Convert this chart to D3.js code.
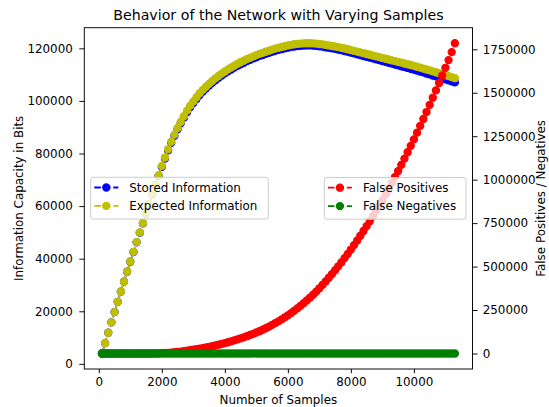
<!DOCTYPE html>
<html>
<head>
<meta charset="utf-8">
<script src="https://cdn.jsdelivr.net/npm/d3@7"></script>
<style>
  html, body { margin: 0; padding: 0; background: #fff; }
  svg { display: block; font-family: "DejaVu Sans", sans-serif; }
</style>
</head>
<body>
<svg id="chart" width="549" height="407"></svg>
<script>
// ---------- data ----------
const samples = [100,200,300,400,500,600,700,800,900,1000,1100,1200,1300,1400,1500,1600,1700,1800,1900,2000,
2100,2200,2300,2400,2500,2600,2700,2800,2900,3000,3100,3200,3300,3400,3500,3600,3700,3800,3900,4000,
4100,4200,4300,4400,4500,4600,4700,4800,4900,5000,5100,5200,5300,5400,5500,5600,5700,5800,5900,6000,
6100,6200,6300,6400,6500,6600,6700,6800,6900,7000,7100,7200,7300,7400,7500,7600,7700,7800,7900,8000,
8100,8200,8300,8400,8500,8600,8700,8800,8900,9000,9100,9200,9300,9400,9500,9600,9700,9800,9900,10000,
10100,10200,10300,10400,10500,10600,10700,10800,10900,11000,11100,11200,11300];

const storedInfo = [3950,7900,11850,15800,19700,23600,27480,31280,35060,38850,42530,46220,49900,53480,57050,60720,64380,67950,71500,74950,
78120,81180,84050,86720,89200,91470,93650,95720,97600,99180,100750,102250,103520,104700,105800,106880,107870,108780,109660,110480,
111250,111950,112650,113330,113950,114520,115130,115620,116130,116600,117120,117480,117920,118280,118720,119080,119420,119680,120020,120250,
120550,120700,120900,120950,121080,121100,121150,121020,120950,120780,120650,120400,120250,119980,119800,119520,119300,118980,118720,118350,
118080,117720,117450,117080,116800,116450,116180,115800,115520,115150,114880,114500,114220,113850,113550,113200,112920,112550,112250,111900,
111580,111150,110850,110400,110100,109650,109350,108900,108600,108200,107850,107450,107050];

const expectedInfo = [3950,7900,11850,15800,19700,23600,27500,31300,35100,38900,42600,46300,50000,53600,57200,60900,64600,68200,71800,75300,
78500,81600,84500,87200,89700,92000,94200,96300,98200,99800,101400,102900,104200,105400,106500,107600,108600,109500,110400,111200,
112000,112700,113400,114100,114700,115300,115900,116400,116900,117400,117900,118300,118700,119100,119500,119900,120200,120500,120800,121100,
121350,121550,121700,121800,121900,121950,121950,121900,121800,121650,121500,121300,121100,120900,120700,120450,120200,119950,119650,119350,
119050,118750,118450,118150,117850,117550,117250,116950,116650,116350,116050,115750,115450,115150,114850,114550,114250,113950,113650,113350,
113000,112650,112300,111950,111600,111250,110900,110550,110200,109850,109450,109050,108650];

const falsePositives = [0,0,0,0,0,0,0,0,0,0,0,0,0,0,0,100,300,600,1100,1800,
2700,3900,5300,6900,8800,10900,13200,15700,18400,21300,24400,27600,31000,34600,38300,42200,46300,50600,55100,59800,
64700,69900,75300,80900,86800,93000,99400,106200,113200,120600,128300,136500,145300,154500,164300,174600,185000,196000,207500,219500,
232000,245500,259500,274000,289000,305000,321000,338000,356000,375000,394500,414500,435500,457000,479000,501500,524500,548500,573000,598000,
623500,650000,677000,704500,732500,761000,790500,820500,851000,882500,914500,947500,981000,1015000,1049500,1085000,1121000,1157500,1194500,1232000,
1270500,1309500,1349000,1389000,1430000,1471500,1513500,1556000,1599500,1643500,1688000,1734000,1785000];

const falseNegatives = [0,0,0,0,0,0,0,0,0,0,0,0,0,0,0,0,0,0,0,0,
0,0,0,0,0,0,0,0,0,0,0,0,0,0,0,0,0,0,0,0,
0,0,0,0,0,0,0,0,0,0,0,0,0,0,0,0,0,0,0,0,
0,0,0,0,0,0,0,0,0,0,0,0,0,0,0,0,0,0,0,0,
0,0,0,0,0,0,0,0,0,0,0,0,0,0,0,0,0,0,0,0,
0,0,0,0,0,0,0,0,0,0,0,0,0];

const xTicks = [0,2000,4000,6000,8000,10000];
const leftTicks = [0,20000,40000,60000,80000,100000,120000];
const rightTicks = [0,250000,500000,750000,1000000,1250000,1500000,1750000];

const titleText = "Behavior of the Network with Varying Samples";
const xLabel = "Number of Samples";
const leftLabel = "Information Capacity in Bits";
const rightLabel = "False Positives / Negatives";

const leftSeries = [
  {name: "Stored Information", values: storedInfo, color: "#0000ff"},
  {name: "Expected Information", values: expectedInfo, color: "#bfbf00"}
];
const rightSeries = [
  {name: "False Positives", values: falsePositives, color: "#ff0000"},
  {name: "False Negatives", values: falseNegatives, color: "#008000"}
];

// ---------- layout ----------
const plot = {left: 84.3, right: 472.5, top: 27.7, bottom: 369};
const FS = 11.9;
const R = 3.57, EW = 1.19, LW = 1.79;
const DASH = "6.6,2.9";

function padded(lo, hi) { const s = hi - lo; return [lo - 0.05 * s, hi + 0.05 * s]; }

const x = d3.scaleLinear().domain(padded(d3.min(samples), d3.max(samples))).range([plot.left, plot.right]);
const leftAll = storedInfo.concat(expectedInfo);
const yL = d3.scaleLinear().domain(padded(d3.min(leftAll), d3.max(leftAll))).range([plot.bottom, plot.top]);
const rightAll = falsePositives.concat(falseNegatives);
const yR = d3.scaleLinear().domain(padded(d3.min(rightAll), d3.max(rightAll))).range([plot.bottom, plot.top]);

const svg = d3.select("#chart");
svg.append("rect").attr("width", 549).attr("height", 407).attr("fill", "#fff");

svg.append("defs").append("clipPath").attr("id", "clip")
  .append("rect").attr("x", plot.left).attr("y", plot.top)
  .attr("width", plot.right - plot.left).attr("height", plot.bottom - plot.top);

function drawSeries(g, s, yScale) {
  const line = d3.line().x((d, i) => x(samples[i])).y(d => yScale(d));
  g.append("path").attr("d", line(s.values)).attr("fill", "none")
    .attr("stroke", s.color).attr("stroke-width", LW).attr("stroke-dasharray", DASH);
  g.selectAll(null).data(s.values).enter().append("circle")
    .attr("cx", (d, i) => x(samples[i])).attr("cy", d => yScale(d)).attr("r", R)
    .attr("fill", s.color).attr("stroke", s.color).attr("stroke-width", EW);
}

function drawLegend(series, bx, by, bw, bh) {
  const g = svg.append("g");
  g.append("rect").attr("x", bx).attr("y", by).attr("width", bw).attr("height", bh)
    .attr("rx", 2.5).attr("fill", "#fff").attr("fill-opacity", 0.8)
    .attr("stroke", "#cccccc").attr("stroke-width", 1);
  series.forEach((s, i) => {
    const cy = by + 10.2 + i * 18.4;
    const hx = bx + 3.6;
    g.append("line").attr("x1", hx).attr("x2", hx + 24).attr("y1", cy).attr("y2", cy)
      .attr("stroke", s.color).attr("stroke-width", LW).attr("stroke-dasharray", DASH);
    g.append("circle").attr("cx", hx + 12).attr("cy", cy).attr("r", R)
      .attr("fill", s.color).attr("stroke", s.color).attr("stroke-width", EW);
    g.append("text").attr("x", hx + 35).attr("y", cy).attr("dy", "0.36em")
      .attr("font-size", FS).attr("fill", "#000").text(s.name);
  });
}

// ax1 series
const g1 = svg.append("g").attr("clip-path", "url(#clip)");
leftSeries.forEach(s => drawSeries(g1, s, yL));
drawLegend(leftSeries, 90.7, 177.3, 177.6, 41.7);

// ax2 series
const g2 = svg.append("g").attr("clip-path", "url(#clip)");
rightSeries.forEach(s => drawSeries(g2, s, yR));
drawLegend(rightSeries, 324.3, 177.5, 141.7, 41.7);

// ---------- axes ----------
function styleAxis(g) {
  g.selectAll(".domain").remove();
  g.selectAll(".tick line").attr("stroke", "#000").attr("stroke-width", 0.95);
  g.selectAll(".tick text").attr("font-size", FS).attr("fill", "#000").attr("font-family", "DejaVu Sans, sans-serif");
}
const fmt = d3.format("d");
const gx = svg.append("g").attr("transform", `translate(0,${plot.bottom})`)
  .call(d3.axisBottom(x).tickValues(xTicks).tickFormat(fmt).tickSize(4.2).tickPadding(4.2));
styleAxis(gx);
const gl = svg.append("g").attr("transform", `translate(${plot.left},0)`)
  .call(d3.axisLeft(yL).tickValues(leftTicks).tickFormat(fmt).tickSize(5).tickPadding(6.5));
styleAxis(gl);
const gr = svg.append("g").attr("transform", `translate(${plot.right},0)`)
  .call(d3.axisRight(yR).tickValues(rightTicks).tickFormat(fmt).tickSize(5).tickPadding(5.2));
styleAxis(gr);

svg.append("rect").attr("x", plot.left).attr("y", plot.top)
  .attr("width", plot.right - plot.left).attr("height", plot.bottom - plot.top)
  .attr("fill", "none").attr("stroke", "#000").attr("stroke-width", 0.95);

// ---------- labels ----------
const cx = (plot.left + plot.right) / 2, cy = (plot.top + plot.bottom) / 2;
svg.append("text").attr("x", cx).attr("y", 19.5).attr("text-anchor", "middle")
  .attr("font-size", 14.2).attr("fill", "#000").text(titleText);
svg.append("text").attr("x", cx).attr("y", 403.5).attr("text-anchor", "middle")
  .attr("font-size", FS).attr("fill", "#000").text(xLabel);
svg.append("text").attr("transform", `translate(23,${cy}) rotate(-90)`).attr("text-anchor", "middle")
  .attr("font-size", FS).attr("fill", "#000").text(leftLabel);
svg.append("text").attr("transform", `translate(545,${cy}) rotate(-90)`).attr("text-anchor", "middle")
  .attr("font-size", FS).attr("fill", "#000").text(rightLabel);
</script>
</body>
</html>
